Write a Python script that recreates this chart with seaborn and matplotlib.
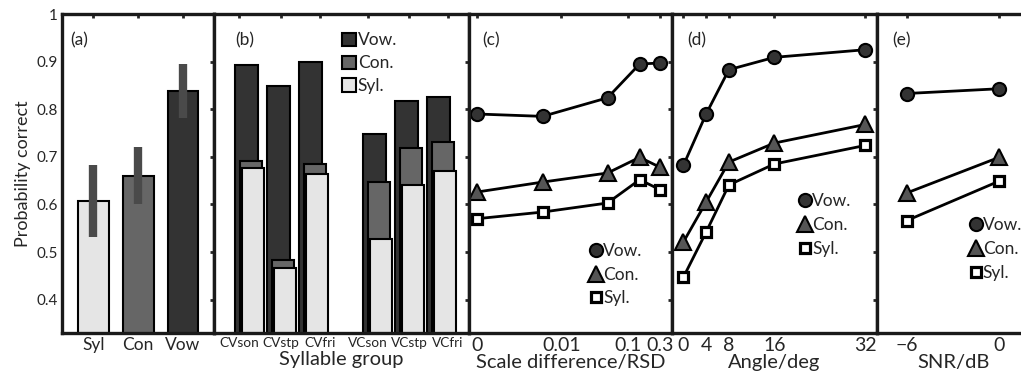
import numpy as np
import pandas as pd
import matplotlib
matplotlib.use('Agg')
import matplotlib.pyplot as plt
import seaborn as sns
from matplotlib.patches import Patch
from matplotlib.lines import Line2D

sns.set_style('white')
plt.rcParams['font.family'] = ['Lato', 'DejaVu Sans']

# (a) overall scores
a_labels = ['Syl', 'Con', 'Vow']
a_values = [0.608, 0.660, 0.839]
a_err_lo = [0.532, 0.600, 0.782]
a_err_hi = [0.683, 0.720, 0.894]

# (b) per syllable group
b_groups = ['CVson', 'CVstp', 'CVfri', 'VCson', 'VCstp', 'VCfri']
b_pos = [0, 1, 2, 4, 5, 6]
b_tick_pos = [-0.24, 1.07, 2.29, 3.78, 5.07, 6.29]
b_vow = [0.892, 0.848, 0.900, 0.747, 0.818, 0.825]
b_con = [0.691, 0.484, 0.685, 0.647, 0.718, 0.731]
b_syl = [0.677, 0.466, 0.664, 0.527, 0.640, 0.670]

# (c) scale difference
c_x = [0, 0.005, 0.05, 0.15, 0.3]
c_ticks = [0, 0.01, 0.1, 0.3]
c_vow = [0.790, 0.785, 0.824, 0.895, 0.897]
c_con = [0.626, 0.647, 0.666, 0.699, 0.678]
c_syl = [0.570, 0.584, 0.603, 0.652, 0.631]

# (d) angle
d_x = [0, 4, 8, 16, 32]
d_vow = [0.682, 0.790, 0.883, 0.909, 0.925]
d_con = [0.521, 0.605, 0.689, 0.729, 0.768]
d_syl = [0.447, 0.542, 0.641, 0.685, 0.724]

# (e) SNR
e_x = [-6, 0]
e_vow = [0.833, 0.843]
e_con = [0.624, 0.699]
e_syl = [0.566, 0.649]

VOW_C, CON_C, SYL_C = '#333333', '#666666', '#e5e5e5'

W, H = 1021, 383
fig = plt.figure(figsize=(W / 100, H / 100), dpi=100)
top, bot = 14, 333


def add_ax(x0, x1):
    return fig.add_axes([x0 / W, 1 - bot / H, (x1 - x0) / W, (bot - top) / H])


ax_a = add_ax(62, 213.5)
ax_b = add_ax(213.5, 468.5)
ax_c = add_ax(468.5, 672)
ax_d = add_ax(672, 876.5)
ax_e = add_ax(876.5, 1030)
axes = [ax_a, ax_b, ax_c, ax_d, ax_e]

# panel (a)
sns.barplot(x=a_labels, y=a_values, hue=a_labels, palette=[SYL_C, CON_C, VOW_C],
            saturation=1, width=0.69, edgecolor='black', linewidth=1.5,
            errorbar=None, legend=False, ax=ax_a)
ax_a.vlines(range(len(a_labels)), a_err_lo, a_err_hi, color='#4a4a4a', lw=6, zorder=5)
ax_a.set_xlim(-0.7, 2.68)
ax_a.set_ylabel('Probability correct', fontsize=13, labelpad=4)
ax_a.tick_params(axis='x', labelsize=12.5)

# panel (b): overlapping bars
for vals, col, off, wd in [(b_vow, VOW_C, 0.0, 0.72),
                           (b_con, CON_C, 0.125, 0.69),
                           (b_syl, SYL_C, 0.2, 0.69)]:
    sns.barplot(x=[p + off for p in b_pos], y=vals, native_scale=True, color=col,
                saturation=1, width=wd, edgecolor='black', linewidth=1.5,
                errorbar=None, ax=ax_b)
ax_b.set_xticks(b_tick_pos)
ax_b.set_xticklabels(b_groups)
ax_b.set_xlim(-1.04, 6.93)
ax_b.tick_params(axis='x', labelsize=9.8)
ax_b.set_xlabel('Syllable group', fontsize=14.5, labelpad=1.5)
ax_b.legend(handles=[Patch(facecolor=c, edgecolor='black', lw=1.5) for c in (VOW_C, CON_C, SYL_C)],
            labels=['Vow.', 'Con.', 'Syl.'], loc='upper left', bbox_to_anchor=(0.47, 0.97),
            frameon=False, handlelength=0.8, handleheight=0.8, handletextpad=0.1,
            labelspacing=0.4, borderpad=0, fontsize=12.5)

# line panels
styles = [dict(marker='o', markersize=9.5, markerfacecolor=VOW_C, markeredgecolor='black',
               markeredgewidth=1.5),
          dict(marker='^', markersize=11, markerfacecolor='#555555', markeredgecolor='black',
               markeredgewidth=1.5),
          dict(marker='s', markersize=6.5, markerfacecolor='white', markeredgecolor='black',
               markeredgewidth=2.3)]


def line_panel(ax, xs, series, leg_anchor):
    for ys, st in zip(series, styles):
        sns.lineplot(x=xs, y=ys, ax=ax, color='black', lw=2.0, sort=False,
                     errorbar=None, **st)
    handles = [Line2D([], [], ls='none', **st) for st in styles]
    ax.legend(handles=handles, labels=['Vow.', 'Con.', 'Syl.'], loc='upper left',
              bbox_to_anchor=leg_anchor, frameon=False, handlelength=0.8,
              handletextpad=0.0, labelspacing=0.45, borderpad=0, fontsize=12.5)
    ax.tick_params(axis='x', labelsize=14)


line_panel(ax_c, c_x, [c_vow, c_con, c_syl], (0.55, 0.31))
ax_c.set_xscale('function', functions=(lambda x: np.log10(np.clip(x, -0.00059, None) + 0.0006),
                                      lambda u: 10 ** u - 0.0006))
ax_c.set_xlim(-0.000146, 0.45)
ax_c.set_xticks(c_ticks)
ax_c.set_xticklabels(['0', '0.01', '0.1', '0.3'])
ax_c.minorticks_off()
ax_c.set_xlabel('Scale difference/RSD', fontsize=14.5, labelpad=0)

line_panel(ax_d, d_x, [d_vow, d_con, d_syl], (0.575, 0.465))
ax_d.set_xlim(-2, 33.95)
ax_d.set_xticks(d_x)
ax_d.set_xlabel('Angle/deg', fontsize=14.5, labelpad=0)

line_panel(ax_e, e_x, [e_vow, e_con, e_syl], (0.545, 0.39))
ax_e.set_xlim(-7.95, 2.0)
ax_e.set_xticks(e_x)
ax_e.set_xticklabels(['\u22126', '0'])
ax_e.set_xlabel('SNR/dB', fontsize=14.5, labelpad=0)

yt = [0.4, 0.5, 0.6, 0.7, 0.8, 0.9, 1.0]
for ax in axes:
    ax.set_ylim(0.33, 1.0)
    ax.set_yticks(yt)
    ax.tick_params(direction='in', length=3, width=2, top=True, right=True, pad=3)
    for sp in ax.spines.values():
        sp.set_linewidth(2.4)
        sp.set_color('#1a1a1a')
    if ax is not ax_a:
        ax.set_yticklabels([])
        ax.set_ylabel('')
ax_a.set_yticklabels(['0.4', '0.5', '0.6', '0.7', '0.8', '0.9', '1'])
ax_a.tick_params(axis='y', labelsize=11)

for txt, xp in zip(['(a)', '(b)', '(c)', '(d)', '(e)'], [70, 235, 482, 687, 892]):
    fig.text(xp / W, 1 - 40 / H, txt, fontsize=12.5, va='center', ha='left')

fig.savefig('out.png', dpi=100)
